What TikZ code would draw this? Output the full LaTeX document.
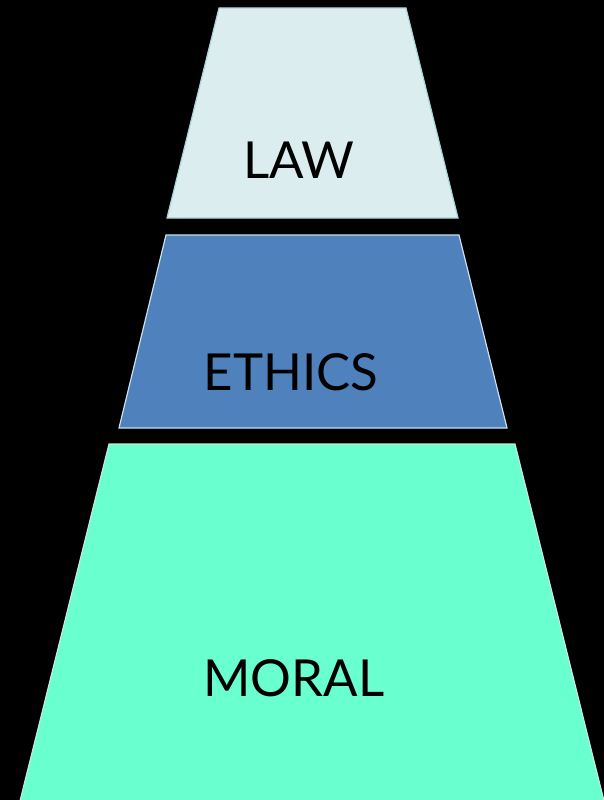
\documentclass[tikz,border=0pt]{standalone}
\usepackage{fontspec}
\setmainfont{Lato}
\usepackage{tikz}
\usetikzlibrary{positioning}

\definecolor{lawfill}{HTML}{DBEDEE}
\definecolor{lawline}{HTML}{A8D4D6}
\definecolor{ethicsfill}{HTML}{4F81BD}
\definecolor{ethicsline}{HTML}{C8E0EA}
\definecolor{moralfill}{HTML}{69FFCF}
\definecolor{moralline}{HTML}{C8E6E0}

\tikzset{
    layer/.style={line width=1.2pt, line join=miter},
    layerlabel/.style={font=\fontsize{51}{54}\selectfont, text=black, inner sep=0pt}
}

\begin{document}
\begin{tikzpicture}[x=1pt,y=-1pt]
            \fill[black] (0,0) rectangle (604,800);
            \useasboundingbox (0,0) rectangle (604,800);

            \coordinate (a) at (219,8);
            \coordinate (b) at (406,8);
            \coordinate (c) at (458,218);
            \coordinate (d) at (167,218);

            \coordinate (e) at (166,235);
            \coordinate (f) at (459,235);
            \coordinate (g) at (507,428);
            \coordinate (h) at (119,428);

            \coordinate (i) at (109,444);
            \coordinate (j) at (515,444);
            \coordinate (k) at (604,801);
            \coordinate (l) at (20,801);

            \filldraw [layer,fill=lawfill,draw=lawline] (a) -- (b) -- (c) -- (d) -- cycle;
            \filldraw [layer,fill=ethicsfill,draw=ethicsline] (e) -- (f) -- (g) -- (h) -- cycle;
            \filldraw [layer,fill=moralfill,draw=moralline] (i) -- (j) -- (k) -- (l) -- cycle;

            \node[layerlabel] (law) at (299,160) {LAW};
            \node[layerlabel] (ethics) at (291,372) {ETHICS};
            \node[layerlabel] (moral) at (294,678) {MORAL};
        \end{tikzpicture}
\end{document}
